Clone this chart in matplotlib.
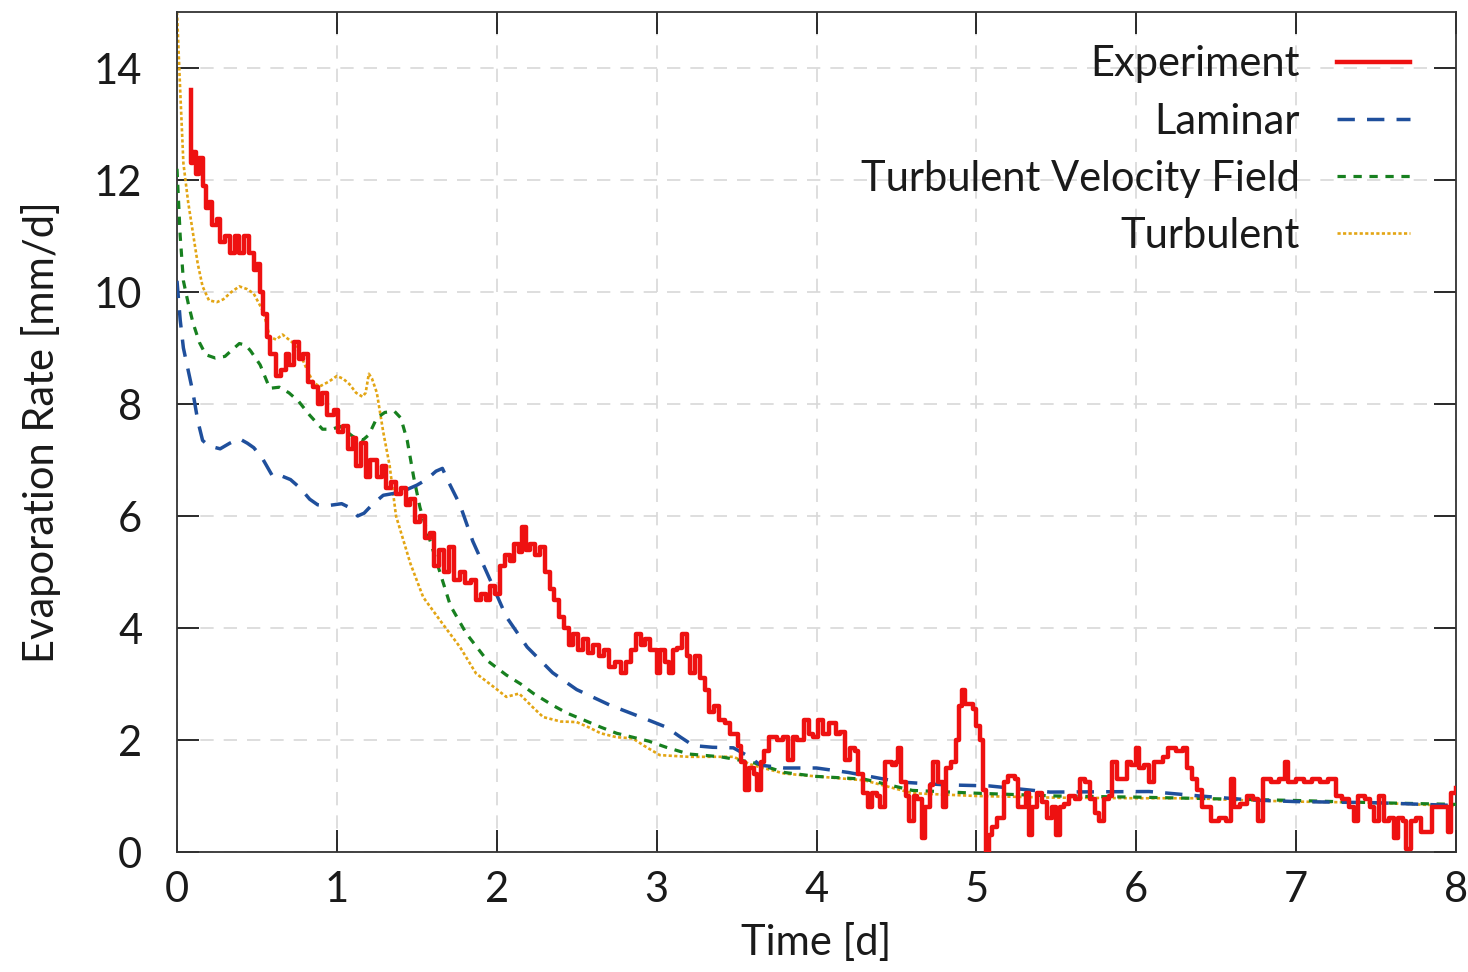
import matplotlib
matplotlib.use("Agg")
import matplotlib.pyplot as plt

# ---------------- data ----------------
exp_t = [0.085, 0.09, 0.10, 0.12, 0.14, 0.16, 0.18, 0.20, 0.22, 0.25, 0.27, 0.30, 0.33, 0.36, 0.39, 0.42,
         0.45, 0.48, 0.50, 0.52, 0.54, 0.56, 0.58, 0.60, 0.62, 0.65, 0.68, 0.70, 0.73, 0.76, 0.79, 0.82,
         0.85, 0.88, 0.91, 0.94, 0.98, 1.01, 1.04, 1.07, 1.10, 1.12, 1.15, 1.18, 1.21, 1.25, 1.28, 1.31,
         1.34, 1.37, 1.40, 1.43, 1.46, 1.49, 1.52, 1.55, 1.58, 1.61, 1.64, 1.67, 1.70, 1.73, 1.77, 1.80,
         1.84, 1.87, 1.90, 1.93, 1.96, 1.99, 2.02, 2.05, 2.08, 2.11, 2.14, 2.16, 2.18, 2.21, 2.24, 2.27,
         2.30, 2.33, 2.36, 2.39, 2.42, 2.45, 2.48, 2.51, 2.54, 2.57, 2.60, 2.64, 2.67, 2.70, 2.74, 2.78,
         2.81, 2.84, 2.87, 2.90, 2.93, 2.96, 3.00, 3.02, 3.05, 3.08, 3.10, 3.13, 3.16, 3.19, 3.21, 3.24,
         3.27, 3.30, 3.33, 3.36, 3.39, 3.43, 3.46, 3.49, 3.51, 3.53, 3.55, 3.58, 3.61, 3.63, 3.65, 3.67,
         3.70, 3.75, 3.79, 3.82, 3.85, 3.88, 3.92, 3.95, 3.98, 4.01, 4.04, 4.08, 4.12, 4.15, 4.18, 4.21,
         4.24, 4.26, 4.29, 4.32, 4.35, 4.38, 4.40, 4.43, 4.47, 4.50, 4.51, 4.53, 4.56, 4.58, 4.61, 4.63,
         4.66, 4.68, 4.71, 4.73, 4.76, 4.79, 4.81, 4.84, 4.87, 4.89, 4.91, 4.93, 4.96, 4.98, 5.00, 5.02,
         5.04, 5.06, 5.08, 5.10, 5.13, 5.15, 5.17, 5.20, 5.24, 5.26, 5.29, 5.31, 5.33, 5.35, 5.38, 5.41,
         5.44, 5.47, 5.50, 5.52, 5.55, 5.58, 5.62, 5.65, 5.68, 5.71, 5.74, 5.77, 5.80, 5.83, 5.85, 5.88,
         5.91, 5.94, 5.97, 6.00, 6.02, 6.05, 6.08, 6.11, 6.14, 6.17, 6.20, 6.25, 6.29, 6.32, 6.35, 6.38,
         6.41, 6.44, 6.47, 6.52, 6.56, 6.59, 6.61, 6.65, 6.69, 6.73, 6.76, 6.79, 6.84, 6.89, 6.93, 6.95,
         7.00, 7.05, 7.10, 7.15, 7.20, 7.25, 7.29, 7.33, 7.36, 7.39, 7.43, 7.46, 7.49, 7.52, 7.55, 7.58,
         7.61, 7.64, 7.67, 7.69, 7.72, 7.75, 7.78, 7.82, 7.85, 7.88, 7.92, 7.95, 7.97, 8.00]
exp_v = [13.6, 12.3, 12.5, 12.1, 12.4, 11.9, 11.5, 11.6, 11.2, 11.3, 10.9, 11.0, 10.7, 11.0, 10.7, 11.0,
         10.7, 10.4, 10.5, 10.0, 9.6, 9.2, 8.9, 8.9, 8.5, 8.6, 8.9, 8.7, 9.1, 8.8, 8.9, 8.4,
         8.3, 8.0, 8.2, 7.8, 7.9, 7.5, 7.6, 7.2, 7.4, 6.9, 7.3, 6.7, 7.0, 6.7, 6.9, 6.5,
         6.6, 6.4, 6.5, 6.2, 6.3, 5.9, 6.0, 5.6, 5.7, 5.1, 5.4, 5.0, 5.45, 4.85, 5.0, 4.8,
         4.85, 4.5, 4.6, 4.5, 4.75, 4.6, 5.1, 5.3, 5.2, 5.5, 5.35, 5.8, 5.4, 5.5, 5.3, 5.45,
         5.0, 4.7, 4.5, 4.2, 4.0, 3.7, 3.9, 3.6, 3.8, 3.55, 3.7, 3.5, 3.6, 3.3, 3.4, 3.2,
         3.4, 3.6, 3.9, 3.7, 3.8, 3.6, 3.2, 3.6, 3.4, 3.2, 3.6, 3.65, 3.9, 3.5, 3.2, 3.5,
         3.1, 2.9, 2.5, 2.6, 2.35, 2.3, 2.1, 2.1, 1.9, 1.6, 1.1, 1.5, 1.4, 1.1, 1.6, 1.8,
         2.05, 2.0, 2.05, 1.65, 2.05, 2.0, 2.35, 2.1, 2.05, 2.35, 2.1, 2.3, 2.1, 2.15, 1.65, 1.85,
         1.8, 1.4, 1.05, 0.8, 1.05, 1.0, 0.8, 1.6, 1.55, 1.6, 1.85, 1.25, 1.0, 0.55, 1.0, 0.95,
         0.25, 0.8, 1.2, 1.6, 1.25, 0.8, 1.5, 1.6, 2.0, 2.6, 2.9, 2.65, 2.65, 2.55, 2.25, 2.0,
         1.1, 0.0, 0.3, 0.45, 0.6, 0.6, 1.25, 1.35, 1.3, 0.8, 0.8, 1.05, 0.3, 0.8, 1.05, 0.9,
         0.6, 0.8, 0.3, 0.8, 0.85, 1.0, 0.95, 1.3, 1.25, 0.95, 0.7, 0.55, 0.95, 1.0, 1.6, 1.3,
         1.3, 1.6, 1.55, 1.85, 1.5, 1.55, 1.25, 1.6, 1.6, 1.7, 1.85, 1.8, 1.85, 1.5, 1.3, 1.1,
         0.8, 0.8, 0.55, 0.6, 0.55, 1.3, 0.8, 0.85, 1.0, 0.95, 0.55, 1.3, 1.25, 1.3, 1.6, 1.25,
         1.3, 1.25, 1.3, 1.25, 1.3, 1.0, 0.95, 0.8, 0.55, 1.0, 0.95, 0.8, 0.55, 1.0, 0.55, 0.6,
         0.25, 0.6, 0.55, 0.05, 0.55, 0.6, 0.35, 0.35, 0.8, 0.8, 0.8, 0.35, 1.05, 1.15]

lam_t = [0.0, 0.02, 0.04, 0.07, 0.10, 0.13, 0.16, 0.20, 0.27, 0.33, 0.39, 0.44, 0.48, 0.53, 0.57, 0.60,
         0.65, 0.71, 0.77, 0.83, 0.88, 0.93, 0.98, 1.03, 1.08, 1.13, 1.17, 1.22, 1.29, 1.35, 1.42, 1.50,
         1.56, 1.62, 1.66, 1.70, 1.77, 1.85, 1.96, 2.06, 2.19, 2.35, 2.50, 2.71, 2.91, 3.06, 3.15, 3.23,
         3.35, 3.48, 3.58, 3.65, 3.80, 4.00, 4.20, 4.52, 4.80, 5.08, 5.46, 6.08, 6.40, 6.71, 7.00, 7.50, 8.00]
lam_v = [10.2, 9.5, 9.0, 8.6, 8.2, 7.7, 7.35, 7.25, 7.2, 7.3, 7.38, 7.3, 7.22, 7.05, 6.85, 6.7,
         6.72, 6.65, 6.5, 6.3, 6.2, 6.18, 6.2, 6.22, 6.15, 6.0, 6.05, 6.2, 6.37, 6.4, 6.45, 6.55,
         6.65, 6.8, 6.85, 6.6, 6.2, 5.55, 4.85, 4.2, 3.66, 3.2, 2.9, 2.62, 2.4, 2.23, 2.05, 1.9,
         1.87, 1.86, 1.7, 1.55, 1.5, 1.5, 1.42, 1.25, 1.2, 1.18, 1.07, 1.08, 1.0, 0.93, 0.9, 0.88, 0.83]

tvf_t = [0.0, 0.02, 0.04, 0.07, 0.10, 0.14, 0.18, 0.24, 0.30, 0.35, 0.39, 0.43, 0.46, 0.52, 0.58, 0.64,
         0.70, 0.76, 0.83, 0.91, 0.97, 1.02, 1.10, 1.16, 1.20, 1.25, 1.30, 1.36, 1.40, 1.44, 1.48, 1.52,
         1.60, 1.71, 1.81, 1.94, 2.06, 2.15, 2.23, 2.35, 2.44, 2.55, 2.65, 2.75, 2.85, 2.95, 3.06, 3.20,
         3.40, 3.60, 3.80, 4.00, 4.30, 4.60, 5.00, 5.50, 6.00, 6.50, 7.00, 7.50, 8.00]
tvf_v = [12.2, 11.0, 10.2, 9.8, 9.45, 9.1, 8.88, 8.82, 8.85, 8.98, 9.08, 9.05, 8.95, 8.7, 8.28, 8.3,
         8.2, 8.05, 7.8, 7.55, 7.55, 7.6, 7.42, 7.35, 7.45, 7.75, 7.85, 7.87, 7.75, 7.35, 6.7, 6.15,
         5.4, 4.4, 3.9, 3.42, 3.16, 3.0, 2.83, 2.62, 2.48, 2.35, 2.23, 2.12, 2.05, 1.98, 1.87, 1.75,
         1.7, 1.6, 1.42, 1.35, 1.3, 1.1, 1.05, 1.0, 0.98, 0.95, 0.92, 0.88, 0.85]

tur_t = [0.0, 0.02, 0.04, 0.07, 0.10, 0.13, 0.16, 0.20, 0.25, 0.29, 0.34, 0.39, 0.44, 0.48, 0.54, 0.58,
         0.62, 0.66, 0.70, 0.73, 0.77, 0.81, 0.85, 0.89, 0.95, 1.00, 1.04, 1.08, 1.12, 1.16, 1.18, 1.20,
         1.22, 1.25, 1.29, 1.33, 1.37, 1.46, 1.54, 1.66, 1.77, 1.87, 1.98, 2.06, 2.14, 2.22, 2.29, 2.40,
         2.50, 2.58, 2.65, 2.75, 2.85, 2.92, 3.02, 3.20, 3.48, 3.60, 3.80, 4.00, 4.30, 4.60, 5.00, 5.50,
         6.00, 6.38, 6.60, 7.00, 7.50, 8.00]
tur_v = [15.0, 13.6, 12.3, 11.6, 11.05, 10.5, 10.1, 9.85, 9.82, 9.87, 10.0, 10.1, 10.05, 9.97, 9.65, 9.2,
         9.15, 9.24, 9.15, 9.08, 8.9, 8.63, 8.4, 8.31, 8.4, 8.5, 8.45, 8.35, 8.2, 8.13, 8.2, 8.54,
         8.45, 8.2, 7.5, 6.9, 6.0, 5.15, 4.55, 4.08, 3.66, 3.19, 2.95, 2.77, 2.83, 2.6, 2.41, 2.33,
         2.32, 2.22, 2.12, 2.05, 2.03, 1.9, 1.73, 1.7, 1.7, 1.55, 1.4, 1.35, 1.28, 1.05, 1.0, 0.97,
         0.96, 0.96, 0.93, 0.9, 0.88, 0.82]

labels = ["Experiment", "Laminar", "Turbulent Velocity Field", "Turbulent"]
x_ticks = [0, 1, 2, 3, 4, 5, 6, 7, 8]
y_ticks = [0, 2, 4, 6, 8, 10, 12, 14]

# ---------------- plot ----------------
plt.rcParams['font.family'] = ['Lato', 'DejaVu Sans']
FS = 30
fig = plt.figure(figsize=(14.68, 9.72), dpi=100)
ax = fig.add_axes([177/1468, 1 - 852/972, (1456-177)/1468, (852-12)/972])

ax.plot(exp_t, exp_v, color='#ee1111', lw=3.2, drawstyle='steps-post', label=labels[0], zorder=5)
ax.plot(lam_t, lam_v, color='#1f4f9c', lw=2.5, dashes=(5, 3.5), label=labels[1], zorder=4)
ax.plot(tvf_t, tvf_v, color='#17801f', lw=2.3, dashes=(2.6, 2.4), label=labels[2], zorder=3)
ax.plot(tur_t, tur_v, color='#e3a514', lw=1.9, dashes=(1.2, 0.9), label=labels[3], zorder=2)

ax.set_xlim(0, 8)
ax.set_ylim(0, 15)
ax.set_xticks(x_ticks)
ax.set_yticks(y_ticks)
ax.tick_params(direction='in', length=16, width=1.3, top=True, right=True,
               labelsize=FS, colors='#1a1a1a')
ax.tick_params(axis='y', pad=25)
ax.tick_params(axis='x', pad=14)
ax.grid(True, color='#d8d8d8', lw=1.2, dashes=(8, 6))
for s in ax.spines.values():
    s.set_linewidth(1.3)
    s.set_color('#333333')

ax.set_xlabel("Time [d]", fontsize=FS, labelpad=10, color='#1a1a1a')
ax.set_ylabel("Evaporation Rate [mm/d]", fontsize=FS, labelpad=24, color='#1a1a1a')

leg = ax.legend(loc='upper right', frameon=False, markerfirst=False, fontsize=FS,
                handlelength=1.75, handletextpad=0.9, labelspacing=0.46,
                borderaxespad=0.0, bbox_to_anchor=(0.977, 0.98))
for t in leg.get_texts():
    t.set_color('#1a1a1a')

fig.savefig("out.png", dpi=100)
